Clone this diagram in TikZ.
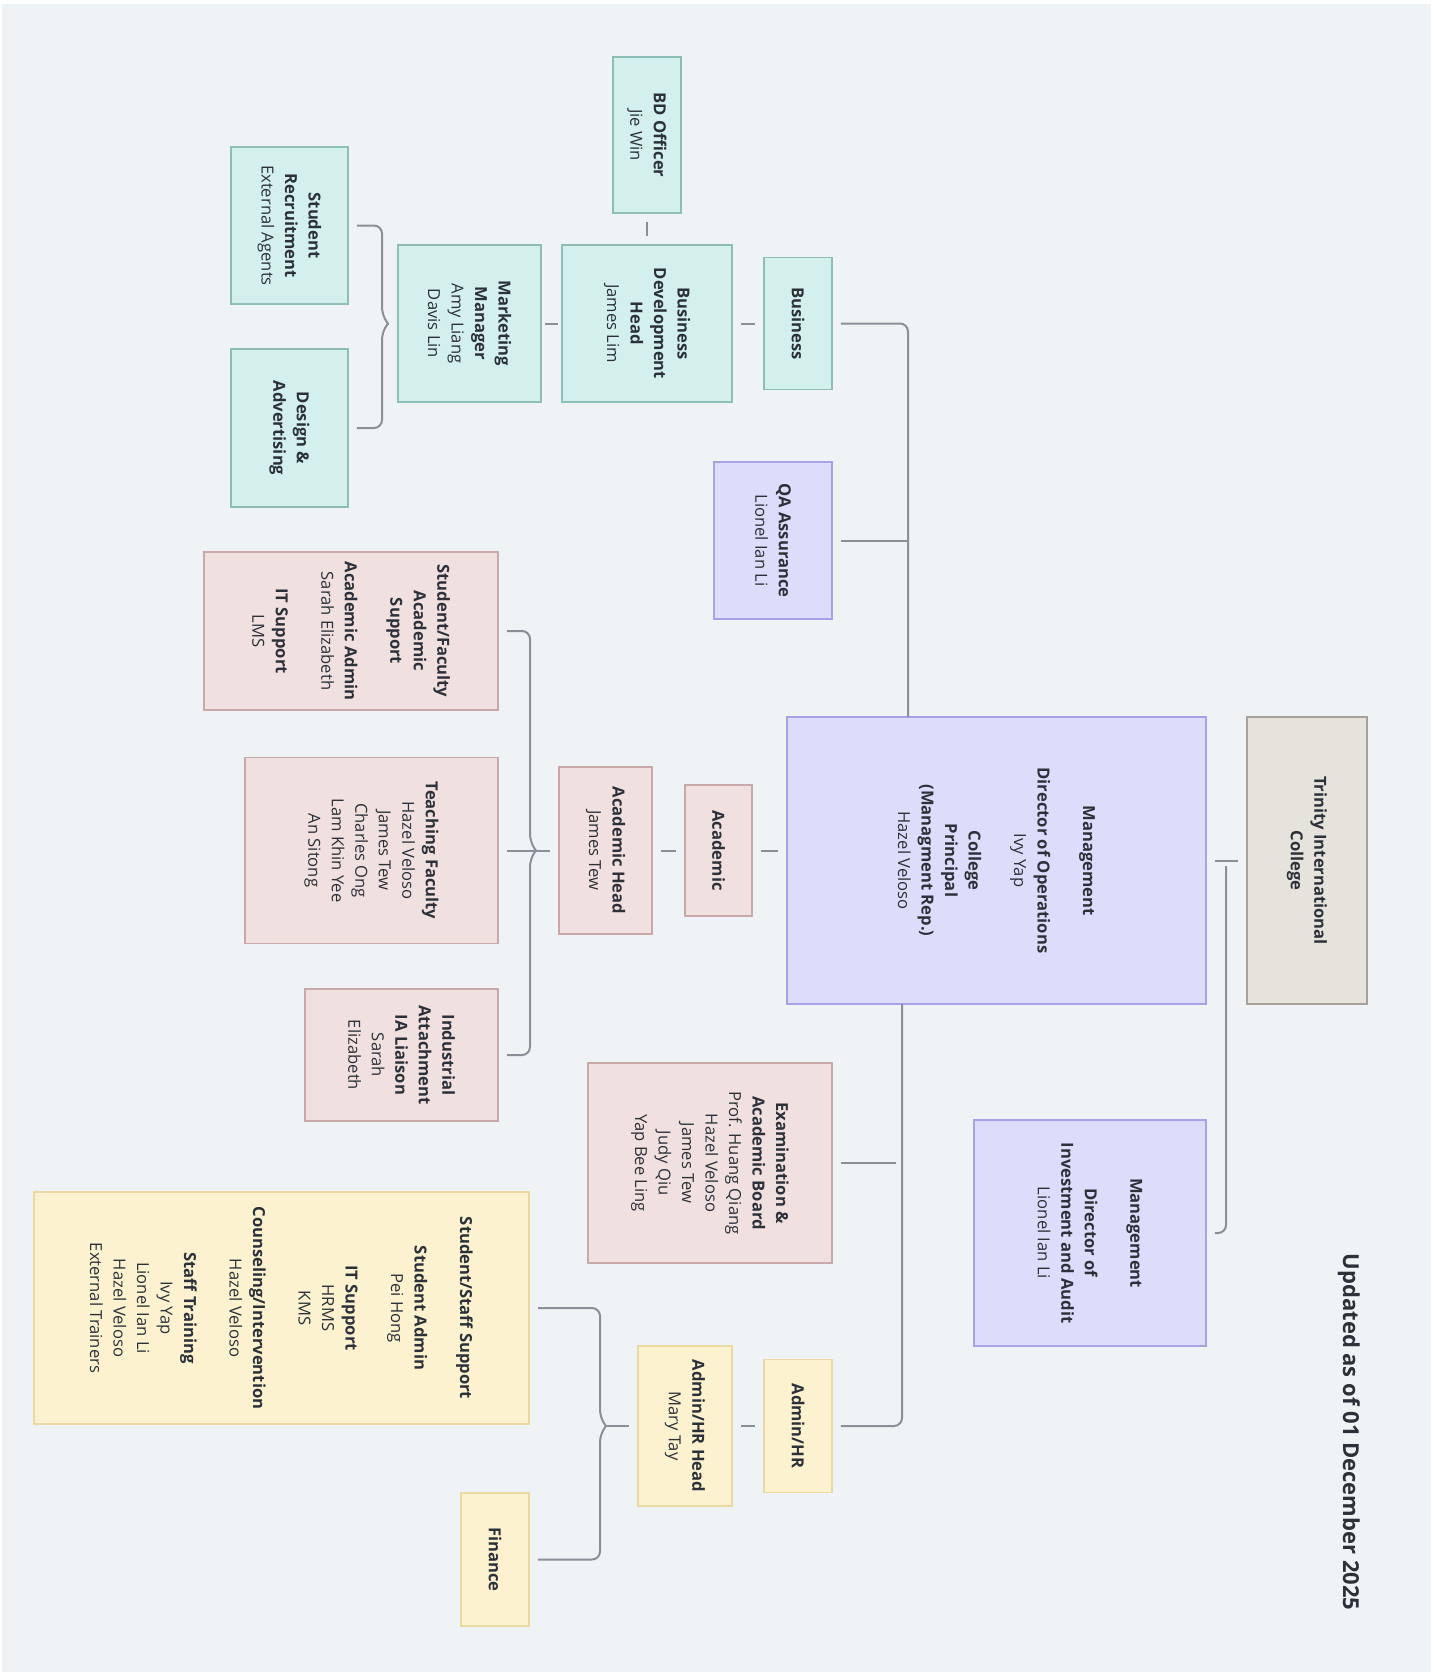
\documentclass[tikz,border=0pt]{standalone}
\usepackage{fontspec}
\setmainfont{Open Sans}
\usepackage{tikz}
\usetikzlibrary{positioning}
\usetikzlibrary{calc}

\definecolor{pagebg}{HTML}{EFF3F6}
\definecolor{ink}{HTML}{2C3139}
\definecolor{wire}{HTML}{8A9098}
\definecolor{bizfill}{HTML}{D3F0EC}
\definecolor{bizline}{HTML}{8DBFB6}
\definecolor{mgtfill}{HTML}{DEDCFB}
\definecolor{mgtline}{HTML}{A7A2E6}
\definecolor{acafill}{HTML}{F1E0E0}
\definecolor{acaline}{HTML}{C8A8A8}
\definecolor{admfill}{HTML}{FCF2D0}
\definecolor{admline}{HTML}{EAD9A0}
\definecolor{topfill}{HTML}{E6E2DC}
\definecolor{topline}{HTML}{A6A29A}

\tikzset{
  box/.style={draw, rotate=-90, align=center, inner sep=2pt, line width=0.75pt,
              text=ink, font=\fontsize{8.3}{11.75}\selectfont},
  bizbox/.style={box, fill=bizfill, draw=bizline},
  mgtbox/.style={box, fill=mgtfill, draw=mgtline},
  acabox/.style={box, fill=acafill, draw=acaline},
  admbox/.style={box, fill=admfill, draw=admline},
  topbox/.style={box, fill=topfill, draw=topline},
  link/.style={draw=wire, line width=1pt, rounded corners=4pt},
  gap/.style={shorten <=4pt, shorten >=4pt}
}

\begin{document}
\begin{tikzpicture}[x=0.5pt, y=-0.5pt]

  \fill[white] (0,0) rectangle (1441,1672);
  \fill[pagebg] (2,4) rectangle (1431,1672);
  \useasboundingbox (0,0) rectangle (1441,1672);

  % top of the tree
  \node[topbox, minimum width=143.5pt, minimum height=60pt]   (tic)   at (1307,860.5) {\textbf{Trinity International}\\\textbf{College}};
  \node[mgtbox, minimum width=143.5pt, minimum height=209.5pt] (mgmt) at (996.5,860.5)
       {\textbf{Management}\\[11pt]\textbf{Director of Operations}\\Ivy Yap\\[11pt]\textbf{College}\\\textbf{Principal}\\\textbf{(Managment Rep.)}\\Hazel Veloso};
  \node[mgtbox, minimum width=113pt, minimum height=116pt]   (inv)   at (1090,1233)
       {\textbf{Management}\\[11pt]\textbf{Director of}\\\textbf{Investment and Audit}\\Lionel Ian Li};

  % business side
  \node[bizbox, minimum width=66pt, minimum height=34pt]     (bus)   at (798,323.5) {\textbf{Business}};
  \node[bizbox, minimum width=78.5pt, minimum height=85pt]   (bdh)   at (647,323.5) {\textbf{Business}\\\textbf{Development}\\\textbf{Head}\\James Lim};
  \node[bizbox, minimum width=78pt, minimum height=34pt]     (bdo)   at (647,135)   {\textbf{BD Officer}\\Jie Win};
  \node[bizbox, minimum width=78.5pt, minimum height=71.5pt] (mm)    at (469.5,323.5) {\textbf{Marketing}\\\textbf{Manager}\\Amy Liang\\Davis Lin};
  \node[bizbox, minimum width=78.5pt, minimum height=58.5pt] (sr)    at (289.5,225.5) {\textbf{Student}\\\textbf{Recruitment}\\External Agents};
  \node[bizbox, minimum width=79pt, minimum height=58.5pt]   (da)    at (289.5,428)   {\textbf{Design \&}\\\textbf{Advertising}};
  \node[mgtbox, minimum width=78.5pt, minimum height=59pt]   (qa)    at (773,540.5)   {\textbf{QA Assurance}\\Lionel Ian Li};

  % academic side
  \node[acabox, minimum width=65.5pt, minimum height=33.5pt] (acad)  at (718.5,850.5) {\textbf{Academic}};
  \node[acabox, minimum width=83.5pt, minimum height=46.5pt] (ahead) at (605.5,850.5) {\textbf{Academic Head}\\James Tew};
  \node[acabox, minimum width=79pt, minimum height=147pt]    (sfas)  at (351,631)
       {\textbf{Student/Faculty}\\\textbf{Academic}\\\textbf{Support}\\[11pt]\textbf{Academic Admin}\\Sarah Elizabeth\\[11pt]\textbf{IT Support}\\LMS};
  \node[acabox, minimum width=93pt, minimum height=126.5pt]  (tf)    at (371.5,850.5)
       {\textbf{Teaching Faculty}\\Hazel Veloso\\James Tew\\Charles Ong\\Lam Khin Yee\\An Sitong};
  \node[acabox, minimum width=66pt, minimum height=96.5pt]   (ia)    at (401.5,1055)
       {\textbf{Industrial}\\\textbf{Attachment}\\\textbf{IA Liaison}\\Sarah\\Elizabeth};
  \node[acabox, minimum width=100pt, minimum height=122pt]   (exam)  at (710,1163)
       {\textbf{Examination \&}\\\textbf{Academic Board}\\Prof. Huang Qiang\\Hazel Veloso\\James Tew\\Judy Qiu\\Yap Bee Ling};

  % admin side
  \node[admbox, minimum width=66.5pt, minimum height=34pt]   (adm)   at (798,1426)  {\textbf{Admin/HR}};
  \node[admbox, minimum width=80pt, minimum height=47pt]     (ahh)   at (685,1426)  {\textbf{Admin/HR Head}\\Mary Tay};
  \node[admbox, minimum width=116pt, minimum height=247.5pt] (sss)   at (281.5,1308)
       {\textbf{Student/Staff Support}\\[11pt]\textbf{Student Admin}\\Pei Hong\\[11pt]\textbf{IT Support}\\HRMS\\KMS\\[11pt]\textbf{Counseling/Intervention}\\Hazel Veloso\\[11pt]\textbf{Staff Training}\\Ivy Yap\\Lionel Ian Li\\Hazel Veloso\\External Trainers};
  \node[admbox, minimum width=66.5pt, minimum height=34pt]   (fin)   at (495,1559.5) {\textbf{Finance}};

  \node[rotate=-90, text=ink, font=\fontsize{11}{13}\selectfont\bfseries] (stamp) at (1349,1432) {Updated as of 01 December 2025};

  % junctions
  \coordinate (topJ) at (908,717);
  \coordinate (botJ) at (902,1004);
  \coordinate (invJ) at (1226,866);
  \coordinate (mkJ)  at (382,323.5);
  \coordinate (acJ)  at (530,850.5);
  \coordinate (ahJ)  at (600,1426);

  % connectors
  \draw[link, gap] (tic) -- (mgmt);
  \draw[link, shorten <=4pt] (inv) -| (invJ);

  \draw[link, shorten <=4pt] (bus) -| (topJ);
  \draw[link, shorten <=4pt] (qa) -- (qa -| topJ);
  \draw[link, gap] (bdh) -- (bus);
  \draw[link, gap] (bdo) -- (bdh);
  \draw[link, shorten <=1.5pt, shorten >=1.5pt] (mm) -- (bdh);
  \draw[link, shorten <=4pt] (sr) -| ([yshift=4pt]mkJ) -- ([xshift=3pt]mkJ);
  \draw[link, shorten <=4pt] (da) -| ([yshift=-4pt]mkJ) -- ([xshift=3pt]mkJ);
  \draw[link, shorten >=4pt] ([xshift=3pt]mkJ) -- (mm);

  \draw[link, gap] (acad) -- (acad -| mgmt.south);
  \draw[link, gap] (ahead) -- (acad);
  \draw[link, gap] (tf) -- (ahead);
  \draw[link, shorten <=4pt] (sfas) -| ([yshift=4pt]acJ) -- ([xshift=3pt]acJ);
  \draw[link, shorten <=4pt] (ia) -| ([yshift=-4pt]acJ) -- ([xshift=3pt]acJ);
  \draw[link, shorten <=4pt, shorten >=3pt] (exam) -- (exam -| botJ);

  \draw[link, shorten <=4pt] (adm) -| (botJ);
  \draw[link, gap] (ahh) -- (adm);
  \draw[link, shorten <=4pt] (sss) -| ([yshift=4pt]ahJ) -- ([xshift=3pt]ahJ);
  \draw[link, shorten <=4pt] (fin) -| ([yshift=-4pt]ahJ) -- ([xshift=3pt]ahJ);
  \draw[link, shorten >=4pt] ([xshift=3pt]ahJ) -- (ahh);

\end{tikzpicture}
\end{document}
